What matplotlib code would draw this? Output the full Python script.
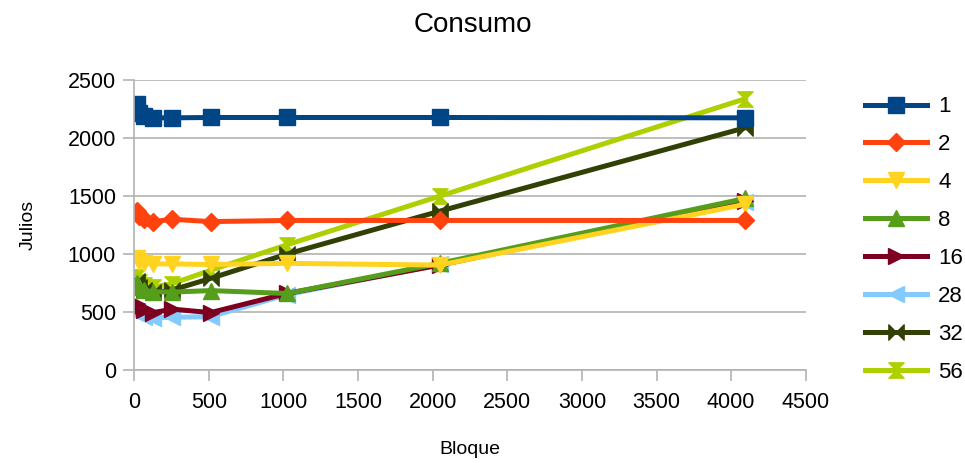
import matplotlib
matplotlib.use("Agg")
import matplotlib.pyplot as plt
from matplotlib.path import Path

plt.rcParams["font.family"] = ["Liberation Sans", "DejaVu Sans"]

bloque = [16, 32, 64, 128, 256, 512, 1024, 2048, 4096]
labels = ["1", "2", "4", "8", "16", "28", "32", "56"]

s1 = [2290, 2220, 2190, 2175, 2175, 2178, 2178, 2178, 2175]
s2 = [1370, 1330, 1300, 1280, 1300, 1280, 1290, 1290, 1290]
s4 = [965, 935, 920, 915, 915, 910, 920, 905, 1430]
s8 = [750, 715, 690, 675, 672, 685, 660, 920, 1480]
s16 = [570, 540, 515, 495, 525, 495, 660, 905, 1455]
s28 = [510, 480, 460, 450, 455, 460, 650, 910, 1445]
s32 = [770, 720, 690, 670, 690, 790, 1000, 1370, 2090]
s56 = [800, 760, 730, 715, 745, 860, 1080, 1500, 2340]
series = [s1, s2, s4, s8, s16, s28, s32, s56]

colors = ["#004586", "#ff420e", "#ffd320", "#579d1c",
          "#7e0021", "#83caff", "#314004", "#aecf00"]

# LibreOffice "bowtie" and "sandglass" symbols
bowtie = Path([(-1, -1), (-1, 1), (1, -1), (1, 1), (-1, -1)],
              [Path.MOVETO, Path.LINETO, Path.LINETO, Path.LINETO, Path.CLOSEPOLY])
sandglass = Path([(-1, 1), (1, 1), (-1, -1), (1, -1), (-1, 1)],
                 [Path.MOVETO, Path.LINETO, Path.LINETO, Path.LINETO, Path.CLOSEPOLY])
markers = ["s", "D", "v", "^", ">", "<", bowtie, sandglass]
msizes = [12, 9, 12, 12, 12, 12, 11, 11]

fig = plt.figure(figsize=(9.65, 4.66), dpi=100)
ax = fig.add_axes([0.139, 0.206, 0.696, 0.622])

n = len(series)
for i, (ys, lab, c, m, ms) in enumerate(zip(series, labels, colors, markers, msizes)):
    # first series ends up on top
    ax.plot(bloque, ys, color=c, lw=3.6, marker=m, ms=ms, mec=c, mfc=c,
            label=lab, zorder=2 + (n - i) * 0.01)

ax.set_xlim(0, 4500)
ax.set_ylim(0, 2500)
ax.set_xticks(range(0, 4501, 500))
ax.set_yticks(range(0, 2501, 500))
ax.grid(axis="y", color="#b3b3b3", lw=1.2)
ax.set_axisbelow(True)
for sp in ["top", "right"]:
    ax.spines[sp].set_visible(False)
for sp in ["left", "bottom"]:
    ax.spines[sp].set_color("#b3b3b3")
    ax.spines[sp].set_linewidth(1.2)
ax.tick_params(colors="#b3b3b3", labelcolor="black", labelsize=15.5,
               length=8, width=1.2)
ax.tick_params(axis="x", pad=8)
ax.tick_params(axis="y", pad=5)

ax.set_xlabel("Bloque", fontsize=14, labelpad=20)
ax.set_ylabel("Julios", fontsize=14, labelpad=22)
fig.suptitle("Consumo", fontsize=20, x=0.49, y=0.975)

ax.legend(loc="upper left", bbox_to_anchor=(1.075, 0.975),
          frameon=False, fontsize=16, handlelength=2.8, labelspacing=0.76,
          handletextpad=0.5, borderaxespad=0)

fig.savefig("out.png", dpi=100)
